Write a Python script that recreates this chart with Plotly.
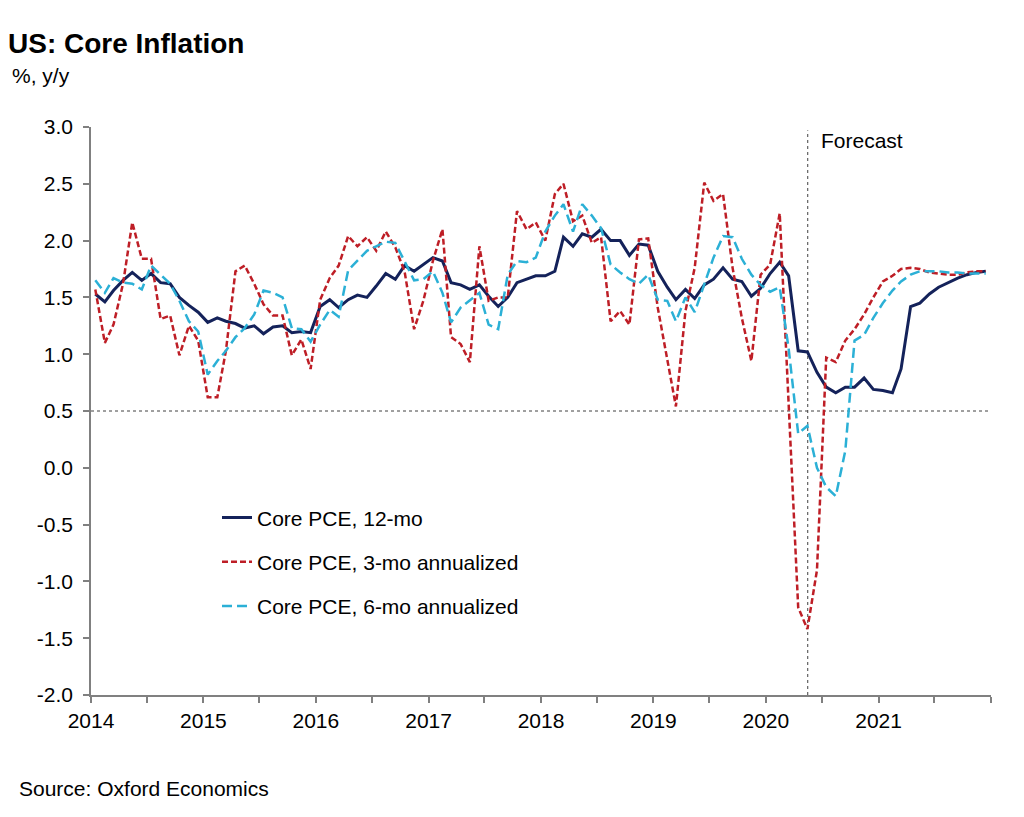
import pandas as pd
import plotly.graph_objects as go

# Monthly data, Jan 2014 - Dec 2021 (96 months)
months = pd.date_range("2014-01-01", periods=96, freq="MS") + pd.Timedelta(days=14)

core_pce_12mo = [
    1.53, 1.46, 1.56, 1.65, 1.72, 1.65, 1.71, 1.63, 1.62, 1.50, 1.43, 1.37,
    1.28, 1.32, 1.29, 1.27, 1.23, 1.25, 1.18, 1.24, 1.25, 1.19, 1.20, 1.19,
    1.42, 1.48, 1.41, 1.48, 1.52, 1.50, 1.60, 1.71, 1.66, 1.78, 1.73, 1.79,
    1.85, 1.82, 1.63, 1.61, 1.57, 1.61, 1.51, 1.42, 1.50, 1.63, 1.66, 1.69,
    1.69, 1.73, 2.03, 1.95, 2.06, 2.03, 2.10, 2.00, 2.00, 1.87, 1.97, 1.96,
    1.73, 1.59, 1.48, 1.57, 1.49, 1.61, 1.66, 1.76, 1.66, 1.64, 1.51, 1.58,
    1.71, 1.81, 1.69, 1.03, 1.02, 0.84, 0.71, 0.66, 0.71, 0.71, 0.79, 0.69,
    0.68, 0.66, 0.87, 1.42, 1.45, 1.53, 1.59, 1.63, 1.67, 1.70, 1.72, 1.73,
]

core_pce_3mo = [
    1.57, 1.10, 1.26, 1.62, 2.16, 1.84, 1.84, 1.31, 1.34, 0.99, 1.25, 1.12,
    0.62, 0.62, 1.03, 1.73, 1.78, 1.62, 1.44, 1.34, 1.34, 0.99, 1.13, 0.87,
    1.48, 1.67, 1.78, 2.04, 1.95, 2.03, 1.91, 2.08, 1.94, 1.73, 1.22, 1.47,
    1.82, 2.10, 1.15, 1.09, 0.93, 1.95, 1.47, 1.50, 1.50, 2.26, 2.10, 2.16,
    2.00, 2.41, 2.50, 2.17, 2.22, 1.98, 2.03, 1.29, 1.38, 1.26, 2.01, 2.02,
    1.41, 0.94, 0.54, 1.38, 1.76, 2.51, 2.35, 2.41, 1.76, 1.32, 0.94, 1.70,
    1.79, 2.24, 0.60, -1.23, -1.42, -0.90, 0.97, 0.93, 1.12, 1.22, 1.35, 1.50,
    1.64, 1.69, 1.75, 1.76, 1.75, 1.72, 1.71, 1.70, 1.70, 1.72, 1.73, 1.73,
]

core_pce_6mo = [
    1.65, 1.54, 1.67, 1.63, 1.62, 1.57, 1.78, 1.70, 1.62, 1.47, 1.29, 1.20,
    0.82, 0.94, 1.03, 1.15, 1.23, 1.35, 1.56, 1.54, 1.50, 1.23, 1.22, 1.11,
    1.26, 1.39, 1.33, 1.74, 1.82, 1.91, 1.95, 1.99, 1.98, 1.82, 1.65, 1.66,
    1.73, 1.54, 1.28, 1.41, 1.47, 1.54, 1.26, 1.22, 1.70, 1.82, 1.81, 1.85,
    2.08, 2.22, 2.32, 2.08, 2.32, 2.22, 2.11, 1.79, 1.72, 1.66, 1.62, 1.70,
    1.48, 1.47, 1.29, 1.50, 1.37, 1.62, 1.85, 2.04, 2.03, 1.84, 1.70, 1.61,
    1.55, 1.59, 1.05, 0.30, 0.37, 0.00, -0.17, -0.25, 0.15, 1.12, 1.17, 1.32,
    1.45, 1.56, 1.64, 1.70, 1.73, 1.73, 1.73, 1.72, 1.72, 1.71, 1.71, 1.71,
]

series_names = ["Core PCE, 12-mo", "Core PCE, 3-mo annualized", "Core PCE, 6-mo annualized"]
year_labels = ["2014", "2015", "2016", "2017", "2018", "2019", "2020", "2021"]
y_ticks = [-2.0, -1.5, -1.0, -0.5, 0.0, 0.5, 1.0, 1.5, 2.0, 2.5, 3.0]
forecast_start = "2020-05-16"
reference_level = 0.5

tickvals = []
ticktext = []
for yl in year_labels + ["2022"]:
    tickvals.append(f"{yl}-01-01")
    ticktext.append(yl if yl in year_labels else "")
    if yl != "2022":
        tickvals.append(f"{yl}-07-01")
        ticktext.append("")

FONT = "Liberation Sans, Arial, sans-serif"
FS = 21

fig = go.Figure()
fig.add_trace(go.Scatter(
    x=months, y=core_pce_12mo, mode="lines", name=series_names[0],
    line=dict(color="#14225A", width=3), legendgroup="a"))
fig.add_trace(go.Scatter(
    x=months, y=core_pce_3mo, mode="lines", name=series_names[1],
    line=dict(color="#BE1E26", width=2.5, dash="6px,3px"), legendgroup="b"))
fig.add_trace(go.Scatter(
    x=months, y=core_pce_6mo, mode="lines", name=series_names[2],
    line=dict(color="#2BB0D6", width=2.5, dash="10px,5px"), legendgroup="c"))

fig.add_shape(type="line", xref="x", yref="y", x0="2014-01-01", x1="2022-01-01",
              y0=reference_level, y1=reference_level,
              line=dict(color="#404040", width=1, dash="dot"), layer="below")
fig.add_shape(type="line", xref="x", yref="y", x0=forecast_start, x1=forecast_start,
              y0=-2.0, y1=2.97,
              line=dict(color="#404040", width=1, dash="dot"), layer="below")
fig.add_annotation(x=forecast_start, y=2.88, xref="x", yref="y", text="Forecast",
                   showarrow=False, xanchor="left", yanchor="middle", xshift=11,
                   font=dict(family=FONT, size=FS, color="#000000"))

fig.update_layout(
    width=1024, height=817,
    margin=dict(l=83, r=41, t=119, b=130),
    paper_bgcolor="white", plot_bgcolor="white",
    font=dict(family=FONT, size=FS, color="#000000"),
    showlegend=True,
    legend=dict(x=0.14, y=0.348, xanchor="left", yanchor="top",
                bgcolor="rgba(0,0,0,0)", font=dict(family=FONT, size=FS),
                traceorder="grouped", tracegroupgap=14, itemwidth=30),
    title=dict(text="<b>US: Core Inflation</b>", x=0.0, xanchor="left",
               y=0.957, yanchor="middle", font=dict(family=FONT, size=28)),
    annotations=list(fig.layout.annotations) + [
        dict(text="%, y/y", xref="paper", yref="paper", x=-0.09, y=1.09,
             xanchor="left", yanchor="middle", showarrow=False,
             font=dict(family=FONT, size=FS)),
        dict(text="Source: Oxford Economics", xref="paper", yref="paper",
             x=-0.082, y=-0.165, xanchor="left", yanchor="middle", showarrow=False,
             font=dict(family=FONT, size=FS)),
    ],
)

fig.update_xaxes(type="date", range=["2014-01-01", "2022-01-01"],
                 tickmode="array", tickvals=tickvals, ticktext=ticktext,
                 showgrid=False, zeroline=False, showline=True,
                 linecolor="#808080", linewidth=1.5,
                 ticks="outside", ticklen=6, tickcolor="#808080", tickwidth=1.5,
                 tickfont=dict(family=FONT, size=FS))
fig.update_yaxes(range=[-2.0, 3.0], tickmode="array", tickvals=y_ticks,
                 ticktext=[f"{v:.1f}" for v in y_ticks],
                 showgrid=False, zeroline=False, showline=True,
                 linecolor="#808080", linewidth=1.5,
                 ticks="outside", ticklen=6, tickcolor="#808080", tickwidth=1.5,
                 ticklabelstandoff=6,
                 tickfont=dict(family=FONT, size=FS))

fig.write_html("out.html")
